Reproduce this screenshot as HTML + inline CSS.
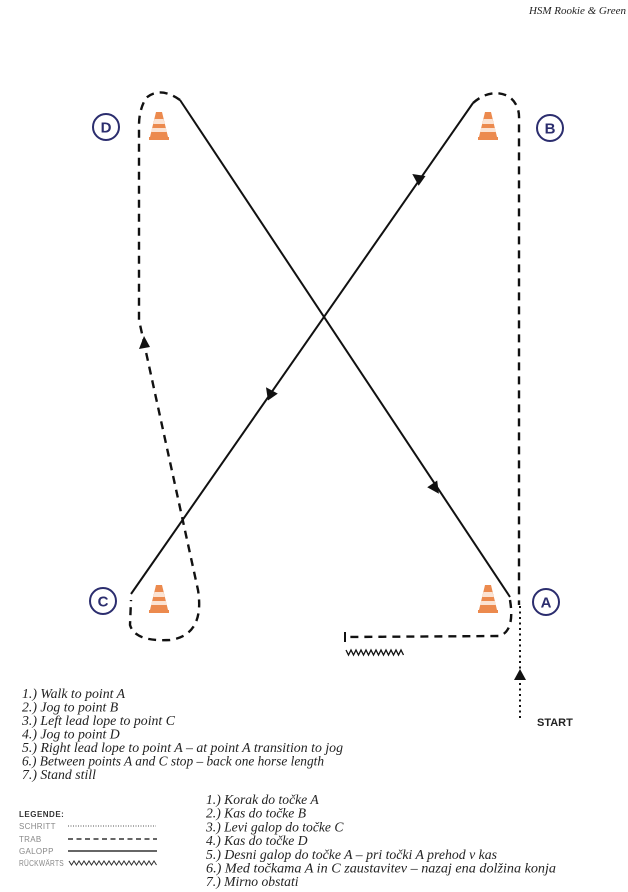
<!DOCTYPE html>
<html><head><meta charset="utf-8"><style>
html,body{margin:0;padding:0;background:#fff;}
svg{display:block;}
.t{font-family:"Liberation Serif",serif;font-style:italic;font-size:13.8px;fill:#222;}
.lg{font-family:"Liberation Sans",sans-serif;font-size:8px;fill:#888;letter-spacing:0.3px;}
.c{font-family:"Liberation Sans",sans-serif;font-weight:bold;font-size:15px;fill:#2b2d6e;}
</style></head><body>
<svg width="628" height="892" viewBox="0 0 628 892" xmlns="http://www.w3.org/2000/svg">
<defs>
<g id="cone">
<path d="M-3,-15 L3,-15 L9,10 L-9,10 Z" fill="#ec8a4e"/>
<path d="M-4.5,-8 L4.5,-8 L5.8,-3 L-5.8,-3 Z" fill="#fbe3d3"/>
<path d="M-6.8,1 L6.8,1 L8,5 L-8,5 Z" fill="#fbe3d3"/>
<rect x="-10" y="10" width="20" height="3" fill="#ec8a4e"/>
</g>
</defs>
<text x="626" y="14" text-anchor="end" class="t" style="font-size:11px">HSM Rookie &amp; Green</text>

<g fill="none" stroke="#2b2d6e" stroke-width="2">
<circle cx="106" cy="127" r="13"/><circle cx="550" cy="128" r="13"/>
<circle cx="103" cy="601" r="13"/><circle cx="546" cy="602" r="13"/>
</g>
<text class="c" x="106" y="132.5" text-anchor="middle">D</text>
<text class="c" x="550" y="133.5" text-anchor="middle">B</text>
<text class="c" x="103" y="606.5" text-anchor="middle">C</text>
<text class="c" x="546" y="607.5" text-anchor="middle">A</text>

<use href="#cone" x="159" y="127"/>
<use href="#cone" x="488" y="127"/>
<use href="#cone" x="159" y="600"/>
<use href="#cone" x="488" y="600"/>

<g stroke="#111" stroke-width="2" fill="none">
<line x1="180" y1="100" x2="510" y2="597"/>
<line x1="131" y1="594" x2="473" y2="103"/>
</g>
<g stroke="#111" stroke-width="2.4" fill="none" stroke-dasharray="8,6">
<path d="M473,103 Q490,88 508,96 Q520,104 519,120 L519,605"/>
<path d="M180,100 Q160,86 146,98 Q139,110 139,125 L139,320 L198,590 Q205,635 170,640 Q135,642 130,625 L131,600"/>
<path d="M510,600 Q515,630 500,636 L345,637"/>
</g>
<line x1="345" y1="632" x2="345" y2="642" stroke="#111" stroke-width="2"/>
<line x1="520" y1="606" x2="520" y2="720" stroke="#111" stroke-width="2" stroke-dasharray="2,3.5"/>
<polyline fill="none" stroke="#111" stroke-width="1.3" points="346,650 348.5,655 351,650 353.5,655 356,650 358.5,655 361,650 363.5,655 366,650 368.5,655 371,650 373.5,655 376,650 378.5,655 381,650 383.5,655 386,650 388.5,655 391,650 393.5,655 396,650 398.5,655 401,650 403.5,655"/>
<g fill="#111">
<polygon points="520,669 514,680 526,680"/>
<polygon points="144,336 139,349 150,347" />
<g transform="translate(418,178) rotate(215)"><polygon points="7,0 -5,-6 -5,6"/></g>
<g transform="translate(270,393) rotate(235)"><polygon points="7,0 -5,-6 -5,6"/></g>
<g transform="translate(435,488) rotate(56)"><polygon points="7,0 -5,-6 -5,6"/></g>
</g>
<text x="537" y="726" style="font-family:'Liberation Sans',sans-serif;font-weight:bold;font-size:11px;fill:#222">START</text>

<g class="t">
<text x="22" y="698">1.) Walk to point A</text>
<text x="22" y="711.5">2.) Jog to point B</text>
<text x="22" y="725">3.) Left lead lope to point C</text>
<text x="22" y="738.5">4.) Jog to point D</text>
<text x="22" y="752" textLength="321" lengthAdjust="spacingAndGlyphs">5.) Right lead lope to point A – at point A transition to jog</text>
<text x="22" y="765.5" textLength="302" lengthAdjust="spacingAndGlyphs">6.) Between points A and C stop – back one horse length</text>
<text x="22" y="779">7.) Stand still</text>
</g>
<g class="t" style="font-size:13.6px">
<text x="206" y="804">1.) Korak do točke A</text>
<text x="206" y="817.7">2.) Kas do točke B</text>
<text x="206" y="831.4">3.) Levi galop do točke C</text>
<text x="206" y="845.1">4.) Kas do točke D</text>
<text x="206" y="858.8" textLength="291" lengthAdjust="spacingAndGlyphs">5.) Desni galop do točke A – pri točki A prehod v kas</text>
<text x="206" y="872.5" textLength="350" lengthAdjust="spacingAndGlyphs">6.) Med točkama A in C zaustavitev – nazaj ena dolžina konja</text>
<text x="206" y="886.2">7.) Mirno obstati</text>
</g>
<text x="19" y="817" style="font-family:'Liberation Sans',sans-serif;font-weight:bold;font-size:8px;fill:#333;letter-spacing:0.5px">LEGENDE:</text>
<text class="lg" x="19" y="829">SCHRITT</text>
<text class="lg" x="19" y="842">TRAB</text>
<text class="lg" x="19" y="854">GALOPP</text>
<text class="lg" x="19" y="866" textLength="45" lengthAdjust="spacingAndGlyphs">RÜCKWÄRTS</text>
<line x1="68" y1="826" x2="156" y2="826" stroke="#555" stroke-width="1" stroke-dasharray="1,1.5"/>
<line x1="68" y1="839" x2="157" y2="839" stroke="#333" stroke-width="1.5" stroke-dasharray="5,3.5"/>
<line x1="68" y1="851" x2="157" y2="851" stroke="#333" stroke-width="1.6"/>
<polyline fill="none" stroke="#333" stroke-width="1" points="69,861 71.5,865 74,861 76.5,865 79,861 81.5,865 84,861 86.5,865 89,861 91.5,865 94,861 96.5,865 99,861 101.5,865 104,861 106.5,865 109,861 111.5,865 114,861 116.5,865 119,861 121.5,865 124,861 126.5,865 129,861 131.5,865 134,861 136.5,865 139,861 141.5,865 144,861 146.5,865 149,861 151.5,865 154,861 156.5,865"/>
</svg>
</body></html>
